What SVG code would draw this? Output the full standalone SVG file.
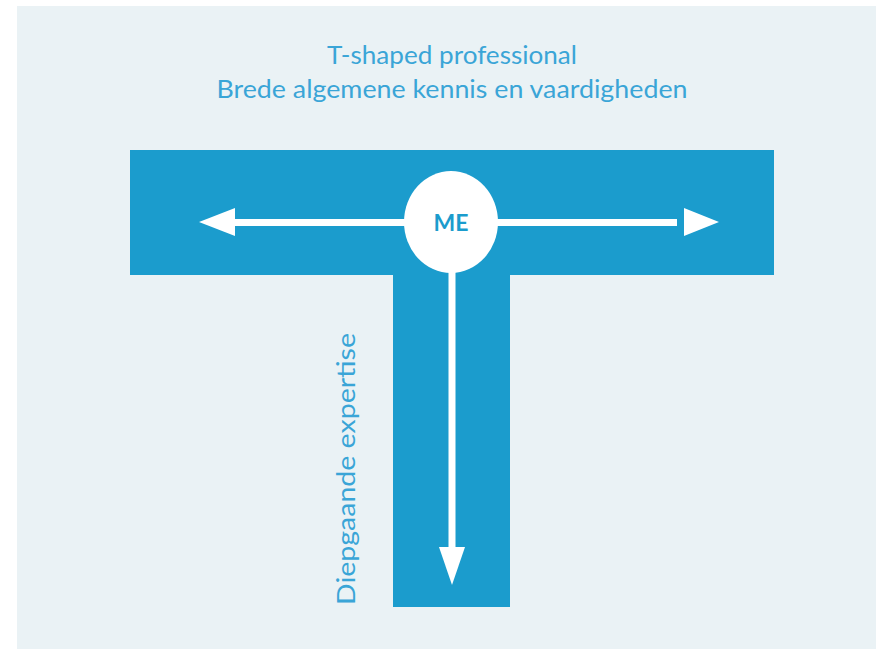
<svg xmlns="http://www.w3.org/2000/svg" width="876" height="672" viewBox="0 0 876 672">
<style>
.t{font-family:Lato,"Open Sans","Liberation Sans",sans-serif;fill:#3aa5d7;font-size:25px}
.bar{fill:#1b9ccd}
.w{fill:#ffffff}
</style>
<rect width="876" height="672" fill="#ffffff"/>
<rect x="17" y="6" width="859" height="643" fill="#eaf2f5"/>
<g id="title">
<text class="t" x="452" y="64" text-anchor="middle" textLength="250" lengthAdjust="spacingAndGlyphs">T-shaped professional</text>
<text class="t" x="452" y="98" text-anchor="middle" textLength="471" lengthAdjust="spacingAndGlyphs">Brede algemene kennis en vaardigheden</text>
</g>
<g id="T-shape">
<rect class="bar" x="130" y="150" width="644" height="125"/>
<rect class="bar" x="393" y="275" width="117" height="332"/>
</g>
<g id="connectors">
<rect class="w" x="232" y="219" width="445" height="7"/>
<polygon class="w" points="199,222 235,208 235,236"/>
<polygon class="w" points="719,222 684,208 684,236"/>
<rect class="w" x="448.5" y="250" width="7" height="300"/>
<polygon class="w" points="452,585 439,547 465,547"/>
</g>
<g id="me">
<ellipse class="w" cx="451" cy="222" rx="47" ry="51"/>
<text x="451" y="231" text-anchor="middle" font-family="Lato,'Open Sans','Liberation Sans',sans-serif" font-weight="bold" font-size="23" fill="#1b9ccd">ME</text>
</g>
<g id="depth-label">
<text class="t" transform="translate(355,469) rotate(-90)" x="0" y="0" text-anchor="middle" textLength="272" lengthAdjust="spacingAndGlyphs">Diepgaande expertise</text>
</g>
</svg>
